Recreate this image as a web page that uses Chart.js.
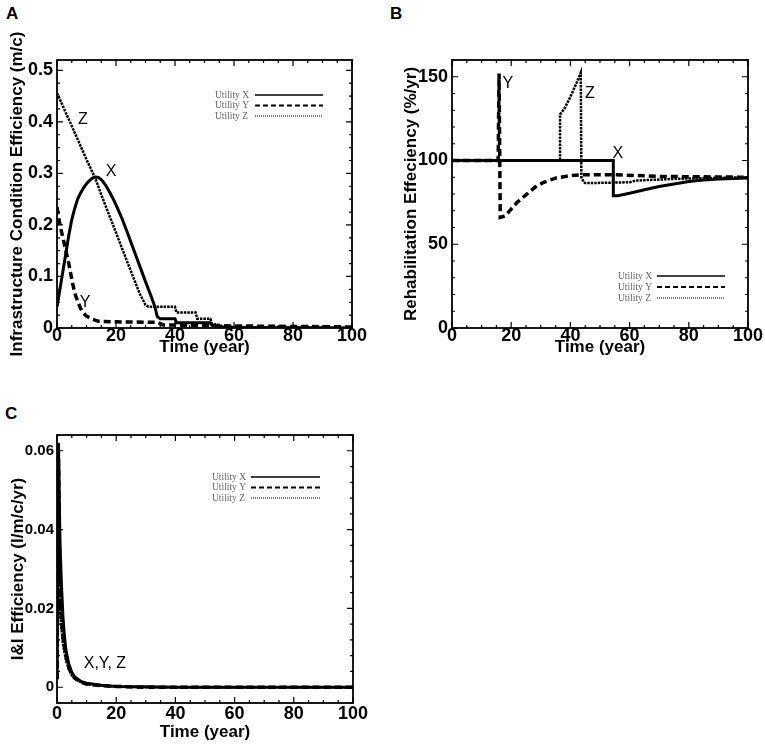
<!DOCTYPE html>
<html>
<head>
<meta charset="utf-8">
<script src="https://cdn.jsdelivr.net/npm/chart.js@4.4.1/dist/chart.umd.min.js"></script>
<style>
  body { margin: 0; background: #fff; width: 765px; height: 746px; position: relative; overflow: hidden; font-family: "Liberation Sans", Arial, sans-serif; }
  .panel { position: absolute; }
  .tag { position: absolute; font-weight: bold; font-size: 17px; }
</style>
</head>
<body>
<div class="tag" style="left:6px;top:4px">A</div>
<div class="tag" style="left:390px;top:4px">B</div>
<div class="tag" style="left:5px;top:404px">C</div>
<div class="panel" style="left:0;top:0;width:380px;height:370px"><canvas id="chartA"></canvas></div>
<div class="panel" style="left:385px;top:0;width:380px;height:370px"><canvas id="chartB"></canvas></div>
<div class="panel" style="left:0;top:370px;width:380px;height:376px"><canvas id="chartC"></canvas></div>
<script>
// Panel A - infrastructure condition efficiency (m/c)
const aTimeX = [0, 1, 2, 3, 4, 5, 6, 7, 8, 9, 10, 11, 12, 13, 14, 15, 16, 17, 18, 19, 20, 22, 24, 26, 28, 30, 32, 33.2, 34, 35, 40, 40.5, 52, 52.5, 55, 56, 60, 100];
const aValsX = [0.041, 0.075, 0.11, 0.145, 0.18, 0.21, 0.232, 0.25, 0.262, 0.272, 0.28, 0.286, 0.291, 0.293, 0.292, 0.288, 0.281, 0.272, 0.262, 0.251, 0.239, 0.213, 0.183, 0.152, 0.121, 0.09, 0.06, 0.041, 0.022, 0.018, 0.018, 0.01, 0.01, 0.005, 0.004, 0.002, 0.001, 0];
const aTimeY = [0, 1, 2, 3, 4, 5, 6, 7, 8, 9, 10, 12, 14, 20, 34, 36, 60, 100];
const aValsY = [0.234, 0.2, 0.175, 0.15, 0.125, 0.095, 0.068, 0.052, 0.038, 0.029, 0.023, 0.017, 0.013, 0.012, 0.011, 0.006, 0.004, 0.002];
const aTimeZ = [0, 5, 10, 13, 15, 20, 25, 28, 30, 31, 40, 40.5, 47, 47.5, 52, 52.5, 55, 56, 60, 100];
const aValsZ = [0.456, 0.392, 0.327, 0.29, 0.259, 0.185, 0.111, 0.067, 0.045, 0.041, 0.041, 0.03, 0.03, 0.018, 0.018, 0.008, 0.006, 0.003, 0.002, 0];

// Panel B - rehabilitation efficiency (%/yr)
const bTimeX = [0, 54.5, 54.5, 56, 60, 65, 70, 75, 80, 85, 90, 100];
const bValsX = [100, 100, 79, 79, 80.5, 82.5, 84.5, 86, 87.5, 88.3, 89, 89.5];
const bTimeY = [0, 15.6, 15.9, 16.3, 18, 20, 22, 25, 28, 31, 35, 40, 44, 55, 70, 100];
const bValsY = [100, 100, 152, 66, 67, 71, 75, 79.5, 84, 87, 89.5, 91, 91.5, 91.5, 90.5, 90];
const bTimeZ = [0, 36.5, 36.5, 38, 40, 42, 43.5, 43.7, 44.5, 45, 60, 62, 75, 85, 100];
const bValsZ = [100, 100, 127.5, 131, 138, 146, 152.5, 90, 87, 86.5, 87, 88, 89, 89.5, 90];

// Panel C - I&I efficiency (l/m/c/yr)
const cTimeX = [0, 0.5, 1, 1.5, 2, 2.5, 3, 4, 5, 6, 8, 10, 15, 20, 30, 40, 100];
const cValsX = [0.002, 0.062, 0.037, 0.026, 0.018, 0.013, 0.0095, 0.0058, 0.0038, 0.0026, 0.0015, 0.001, 0.0005, 0.0002, 0.0001, 0, 0];
const cTimeY = [0, 0.5, 1, 1.5, 2, 3, 4, 5, 6, 8, 10, 15, 20, 30, 100];
const cValsY = [0.002, 0.058, 0.024, 0.017, 0.013, 0.008, 0.005, 0.0033, 0.0023, 0.0013, 0.0008, 0.0004, 0.0002, 0, 0];
const cTimeZ = [0, 0.5, 1, 1.5, 2, 3, 4, 5, 7, 10, 20, 30, 100];
const cValsZ = [0.002, 0.05, 0.02, 0.015, 0.011, 0.007, 0.0045, 0.003, 0.0017, 0.0007, 0.0002, 0, 0];

const seriesNames = ['Utility X', 'Utility Y', 'Utility Z'];

const pts = (ts, vs) => ts.map((t, i) => ({ x: t, y: vs[i] }));
const bold = (size) => ({ family: '"Liberation Sans", Arial, sans-serif', size: size, weight: 'bold' });

function makeSets(tx, vx, ty, vy, tz, vz) {
    return [
        { label: seriesNames[0], data: pts(tx, vx), borderColor: '#000', borderWidth: 3, legendDash: [] },
        { label: seriesNames[1], data: pts(ty, vy), borderColor: '#000', borderWidth: 3.5, borderDash: [7, 4], legendDash: [5, 3] },
        { label: seriesNames[2], data: pts(tz, vz), borderColor: '#000', borderWidth: 2.5, borderDash: [2.5, 1], legendDash: [1, 1] }
    ];
}

// box, inward tick marks, in-plot labels and the small legend
const framePlugin = {
    id: 'frame',
    afterDatasetsDraw(chart, args, o) {
        const { ctx, chartArea: a, scales: { x, y } } = chart;
        ctx.save();
        ctx.strokeStyle = '#000';
        ctx.lineWidth = 1.8;
        ctx.strokeRect(a.left, a.top, a.right - a.left, a.bottom - a.top);

        ctx.lineWidth = 1.2;
        ctx.beginPath();
        const nx = Math.round((x.max - x.min) / o.xMinor);
        for (let i = 0; i <= nx; i++) {
            const v = x.min + i * o.xMinor;
            const px = x.getPixelForValue(v);
            const len = Math.abs(v / o.xMajor - Math.round(v / o.xMajor)) < 1e-6 ? 6 : 3;
            ctx.moveTo(px, a.bottom); ctx.lineTo(px, a.bottom - len);
            ctx.moveTo(px, a.top); ctx.lineTo(px, a.top + len);
        }
        const y0 = Math.ceil(y.min / o.yMinor - 1e-6);
        const y1 = Math.floor(y.max / o.yMinor + 1e-6);
        for (let k = y0; k <= y1; k++) {
            const v = k * o.yMinor;
            const py = y.getPixelForValue(v);
            const len = Math.abs(v / o.yMajor - Math.round(v / o.yMajor)) < 1e-6 ? 6 : 3;
            ctx.moveTo(a.left, py); ctx.lineTo(a.left + len, py);
            ctx.moveTo(a.right, py); ctx.lineTo(a.right - len, py);
        }
        ctx.stroke();

        ctx.fillStyle = '#000';
        ctx.textAlign = 'center';
        ctx.textBaseline = 'middle';
        ctx.font = '16px "Liberation Sans", Arial, sans-serif';
        o.labels.forEach(l => {
            ctx.fillText(l.text, x.getPixelForValue(l.t), y.getPixelForValue(l.v));
        });

        const lg = o.legend;
        ctx.font = '9.5px "Liberation Serif", serif';
        ctx.textAlign = 'left';
        chart.data.datasets.forEach((ds, i) => {
            const ry = lg.y + i * lg.gap;
            ctx.fillStyle = '#666';
            ctx.fillText(ds.label, lg.x, ry);
            ctx.strokeStyle = '#000';
            ctx.lineWidth = i === 1 ? 2 : (i === 2 ? 1 : 1.6);
            ctx.setLineDash(ds.legendDash);
            ctx.beginPath();
            ctx.moveTo(lg.x0, ry); ctx.lineTo(lg.x1, ry);
            ctx.stroke();
            ctx.setLineDash([]);
        });
        ctx.restore();
    }
};

function makeChart(id, cfg) {
    new Chart(document.getElementById(id), {
        type: 'line',
        data: { datasets: cfg.sets },
        options: {
            responsive: true,
            maintainAspectRatio: false,
            animation: false,
            layout: { padding: cfg.pad },
            elements: { point: { radius: 0 }, line: { tension: 0 } },
            plugins: {
                legend: { display: false },
                tooltip: { enabled: false },
                frame: cfg.frame
            },
            scales: {
                x: {
                    type: 'linear', min: 0, max: 100,
                    grid: { display: false, drawTicks: false },
                    border: { display: false },
                    ticks: { stepSize: 20, padding: cfg.xPad, color: '#000', font: bold(18), maxRotation: 0, includeBounds: false },
                    title: { display: true, text: 'Time (year)', color: '#000', font: bold(17), padding: { top: 0, bottom: 0 } },
                    afterFit: s => { s.height = cfg.xH; }
                },
                y: {
                    min: cfg.yMin, max: cfg.yMax,
                    grid: { display: false, drawTicks: false },
                    border: { display: false },
                    ticks: { stepSize: cfg.yStep, padding: cfg.yPad, color: '#000', font: bold(cfg.yFont), includeBounds: false,
                        callback: v => String(+v.toFixed(3)) },
                    title: { display: true, text: cfg.yTitle, color: '#000', font: bold(17), padding: { top: cfg.titlePad, bottom: 0 } },
                    afterFit: s => { s.width = cfg.yW; }
                }
            }
        },
        plugins: [framePlugin]
    });
}

makeChart('chartA', {
    sets: makeSets(aTimeX, aValsX, aTimeY, aValsY, aTimeZ, aValsZ),
    pad: { left: 0, top: 60, right: 28, bottom: 12 },
    xH: 30, xPad: -3, yW: 57, yPad: 4, yFont: 18, titlePad: 7,
    yMin: 0, yMax: 0.52, yStep: 0.1,
    yTitle: 'Infrastructure Condition Efficiency (m/c)',
    frame: {
        xMinor: 5, xMajor: 20, yMinor: 0.025, yMajor: 0.1,
        labels: [{ t: 8.8, v: 0.405, text: 'Z' }, { t: 18.3, v: 0.303, text: 'X' }, { t: 9.5, v: 0.05, text: 'Y' }],
        legend: { x: 215, y: 95, gap: 10.5, x0: 255, x1: 323 }
    }
});

makeChart('chartB', {
    sets: makeSets(bTimeX, bValsX, bTimeY, bValsY, bTimeZ, bValsZ),
    pad: { left: 0, top: 60, right: 17, bottom: 12 },
    xH: 30, xPad: -3, yW: 67, yPad: 4, yFont: 18, titlePad: 16,
    yMin: 0, yMax: 160, yStep: 50,
    yTitle: 'Rehabilitation Effeciency (%/yr)',
    frame: {
        xMinor: 5, xMajor: 20, yMinor: 10, yMajor: 50,
        labels: [{ t: 18.9, v: 146, text: 'Y' }, { t: 46.6, v: 140, text: 'Z' }, { t: 56, v: 104, text: 'X' }],
        legend: { x: 233, y: 276, gap: 11, x0: 272, x1: 340 }
    }
});

makeChart('chartC', {
    sets: makeSets(cTimeX, cValsX, cTimeY, cValsY, cTimeZ, cValsZ),
    pad: { left: 0, top: 65, right: 27, bottom: 3 },
    xH: 40, xPad: 0, yW: 57, yPad: 3, yFont: 15, titlePad: 8,
    yMin: -0.004, yMax: 0.064, yStep: 0.02,
    yTitle: 'I&I Efficiency (l/m/c/yr)',
    frame: {
        xMinor: 5, xMajor: 20, yMinor: 0.004, yMajor: 0.02,
        labels: [{ t: 16.2, v: 0.006, text: 'X,Y, Z' }],
        legend: { x: 212, y: 107, gap: 10.5, x0: 251, x1: 320 }
    }
});
</script>
</body>
</html>
